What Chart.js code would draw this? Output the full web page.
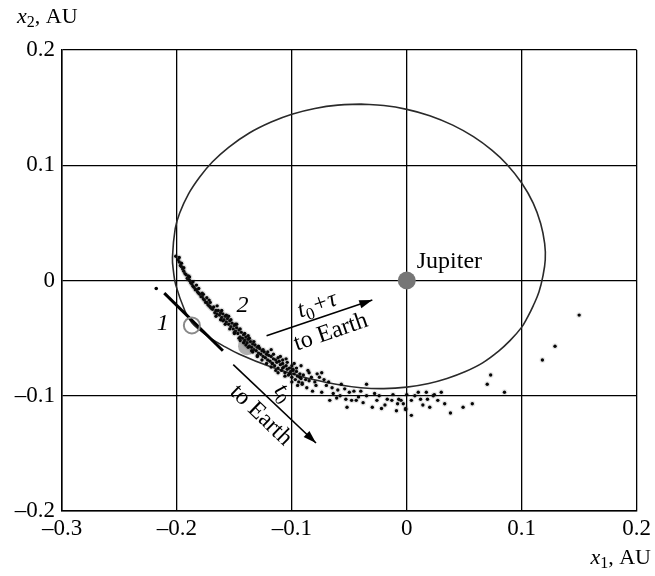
<!DOCTYPE html>
<html>
<head>
<meta charset="utf-8">
<script src="https://cdn.jsdelivr.net/npm/chart.js@4/dist/chart.umd.min.js"></script>
<style>
html,body{margin:0;padding:0;background:#fff;}
#wrap{width:655px;height:576px;}
</style>
</head>
<body>
<div id="wrap"><canvas id="c" width="655" height="576"></canvas></div>
<script>
// ---- data ----
const xTicks = [-0.3, -0.2, -0.1, 0, 0.1, 0.2];
const yTicks = [-0.2, -0.1, 0, 0.1, 0.2];

// orbit, clockwise starting at the top
const orbitX = [-0.040, -0.020, 0.000, 0.020, 0.040, 0.058, 0.074, 0.087, 0.100, 0.110, 0.1165, 0.1200, 0.1205,
                0.1185, 0.1150, 0.1100, 0.1050, 0.0997, 0.0900, 0.0797, 0.0660, 0.0511, 0.0350, 0.0191, 0.0000, -0.0200, -0.0400, -0.0615, -0.0910, -0.1196, -0.1456, -0.1600, -0.1716, -0.1800, -0.1872, -0.1930, -0.2010, -0.2030, -0.2039,
                -0.2015, -0.1976, -0.190, -0.180, -0.169, -0.155, -0.137, -0.118, -0.100, -0.080, -0.060, -0.040];
const orbitY = [0.1530, 0.1518, 0.1485, 0.1430, 0.1348, 0.1248, 0.1131, 0.1009, 0.0846, 0.0672, 0.0495, 0.0320, 0.0180,
                0.0040, -0.0100, -0.0220, -0.0320, -0.0409, -0.0520, -0.0615, -0.0715, -0.0790, -0.0850, -0.0893, -0.0925, -0.0938, -0.0930, -0.0900, -0.0835, -0.0745, -0.0640, -0.0565, -0.0495, -0.0430, -0.0365, -0.0265, -0.0040, 0.0080, 0.0200,
                0.0450, 0.0586, 0.0750, 0.0900, 0.1030, 0.1156, 0.1280, 0.1375, 0.1443, 0.1493, 0.1522, 0.1530];

// particle cloud (x1, x2)
const cloud = [
[-0.201,0.021],[-0.199,0.018],[-0.198,0.016],[-0.197,0.013],[-0.196,0.012],[-0.195,0.010],[-0.194,0.008],[-0.193,0.006],[-0.192,0.005],[-0.191,0.002],
[-0.190,0.001],[-0.189,0.000],[-0.188,-0.002],[-0.187,-0.003],[-0.186,-0.005],[-0.185,-0.006],[-0.184,-0.008],[-0.183,-0.008],[-0.182,-0.010],[-0.181,-0.011],
[-0.180,-0.012],[-0.179,-0.014],[-0.178,-0.014],[-0.177,-0.016],[-0.176,-0.017],[-0.175,-0.019],[-0.174,-0.019],[-0.173,-0.021],[-0.172,-0.022],[-0.171,-0.023],
[-0.170,-0.024],[-0.196,0.015],[-0.190,0.004],[-0.186,-0.001],[-0.181,-0.007],[-0.178,-0.011],[-0.174,-0.015],[-0.171,-0.019],
[-0.198,0.020],[-0.194,0.011],[-0.189,0.003],[-0.183,-0.004],[-0.177,-0.012],[-0.172,-0.017],
[-0.169,-0.025],[-0.168,-0.023],[-0.167,-0.028],[-0.166,-0.026],[-0.165,-0.029],[-0.164,-0.026],[-0.163,-0.030],[-0.162,-0.028],[-0.161,-0.032],[-0.160,-0.029],
[-0.159,-0.034],[-0.158,-0.031],[-0.157,-0.036],[-0.156,-0.033],[-0.155,-0.038],[-0.154,-0.035],[-0.153,-0.040],[-0.152,-0.037],[-0.151,-0.042],[-0.150,-0.039],
[-0.149,-0.044],[-0.148,-0.041],[-0.147,-0.046],[-0.146,-0.043],[-0.145,-0.049],[-0.144,-0.045],[-0.143,-0.050],[-0.142,-0.047],[-0.141,-0.052],[-0.140,-0.049],
[-0.139,-0.054],[-0.138,-0.051],[-0.137,-0.057],[-0.136,-0.053],[-0.135,-0.058],[-0.134,-0.055],[-0.133,-0.060],[-0.132,-0.056],[-0.131,-0.061],[-0.130,-0.058],
[-0.129,-0.063],[-0.128,-0.059],[-0.127,-0.064],[-0.126,-0.061],[-0.125,-0.066],
[-0.160,-0.035],[-0.150,-0.045],[-0.145,-0.052],[-0.140,-0.056],[-0.135,-0.061],[-0.130,-0.065],[-0.138,-0.048],[-0.148,-0.038],[-0.155,-0.031],
[-0.165,-0.022],[-0.161,-0.026],[-0.157,-0.030],[-0.153,-0.034],[-0.149,-0.038],[-0.145,-0.042],[-0.141,-0.046],[-0.137,-0.050],[-0.133,-0.053],[-0.129,-0.057],
[-0.125,-0.060],[-0.121,-0.062],
[-0.166,-0.031],[-0.162,-0.034],[-0.158,-0.038],[-0.154,-0.042],[-0.150,-0.046],[-0.146,-0.050],[-0.142,-0.054],[-0.138,-0.058],[-0.134,-0.062],[-0.130,-0.066],
[-0.126,-0.069],[-0.122,-0.072],[-0.118,-0.075],[-0.114,-0.078],
[-0.124,-0.062],[-0.123,-0.067],[-0.122,-0.064],[-0.121,-0.069],[-0.120,-0.065],[-0.119,-0.070],[-0.118,-0.066],[-0.117,-0.072],[-0.116,-0.068],[-0.115,-0.074],
[-0.114,-0.069],[-0.113,-0.071],[-0.112,-0.076],[-0.111,-0.070],[-0.110,-0.073],[-0.109,-0.078],[-0.108,-0.072],[-0.107,-0.075],[-0.106,-0.080],[-0.105,-0.074],
[-0.104,-0.077],[-0.103,-0.082],[-0.102,-0.076],[-0.101,-0.079],[-0.100,-0.084],[-0.099,-0.077],[-0.098,-0.081],[-0.097,-0.086],[-0.096,-0.079],[-0.095,-0.083],
[-0.094,-0.088],[-0.093,-0.081],[-0.092,-0.085],[-0.091,-0.090],[-0.090,-0.082],
[-0.118,-0.060],[-0.110,-0.066],[-0.105,-0.068],[-0.098,-0.072],[-0.092,-0.074],
[-0.116,-0.064],[-0.112,-0.067],[-0.108,-0.069],[-0.104,-0.071],[-0.100,-0.074],[-0.096,-0.076],[-0.112,-0.080],[-0.106,-0.083],[-0.100,-0.088],[-0.095,-0.091],
[-0.088,-0.086],[-0.086,-0.078],[-0.083,-0.084],[-0.080,-0.088],[-0.078,-0.081],[-0.072,-0.086],[-0.068,-0.088],[-0.064,-0.098],[-0.060,-0.095],[-0.058,-0.100],
[-0.046,-0.096],[-0.040,-0.096],[-0.038,-0.106],[-0.028,-0.098],[-0.026,-0.104],[-0.019,-0.108],[-0.012,-0.099],[-0.008,-0.107],[0.000,-0.099],[0.014,-0.108],
[0.027,-0.104],[0.030,-0.097],
[-0.117,-0.072],[-0.108,-0.076],[-0.102,-0.081],[-0.099,-0.078],[-0.093,-0.084],[-0.091,-0.089],[-0.087,-0.093],[-0.085,-0.087],[-0.082,-0.096],[-0.079,-0.091],
[-0.076,-0.084],[-0.074,-0.097],[-0.067,-0.104],[-0.061,-0.102],[-0.085,-0.080],[-0.074,-0.080],
[-0.070,-0.091],[-0.065,-0.093],[-0.057,-0.090],[-0.054,-0.094],[-0.050,-0.097],[-0.053,-0.103],[-0.048,-0.104],[-0.052,-0.110],[-0.044,-0.104],[-0.042,-0.101],
[-0.035,-0.090],[-0.035,-0.100],[-0.030,-0.110],[-0.024,-0.100],[-0.022,-0.111],[-0.017,-0.103],[-0.013,-0.104],[-0.009,-0.113],[-0.005,-0.104],[-0.001,-0.111],
[0.004,-0.117],[0.004,-0.104],[0.012,-0.103],[0.017,-0.097],
[-0.007,-0.103],[-0.003,-0.107],[0.007,-0.100],[0.010,-0.097],[0.018,-0.103],[0.020,-0.110],[0.023,-0.100],[0.024,-0.099],[-0.001,-0.112],
[0.033,-0.107],[0.038,-0.115],[0.049,-0.110],[0.057,-0.107],[0.070,-0.090],[0.073,-0.082],[0.085,-0.097],[0.118,-0.069],[0.129,-0.057],[0.150,-0.030]
];

// trajectory segment "1" (start dot + line)
const track1X = [-0.211, -0.160];
const track1Y = [-0.011, -0.061];
const track1Dot = [[-0.218, -0.007]];

// markers
const marker1 = [[-0.187, -0.039]];   // open circle at "1"
const marker2 = [[-0.139, -0.057]];   // grey disc at "2"
const jupiter = [[0, 0]];

// direction arrows to Earth: [start, end]
const arrowT0 = [[-0.151, -0.073], [-0.079, -0.141]];
const arrowT0tau = [[-0.122, -0.048], [-0.030, -0.017]];

// text labels anchored in data coordinates
const labels = [
  {segs:[{t:'Jupiter'}], x:0.0087, y:0.0160, rot:0, align:'left'},
  {segs:[{t:'1', i:true}], x:-0.2123, y:-0.0374, rot:0, align:'center'},
  {segs:[{t:'2', i:true}], x:-0.143, y:-0.0217, rot:0, align:'center'},
  {segs:[{t:'t', i:true},{t:'0', sub:true},{t:'+τ', i:true}], x:-0.078, y:-0.0215, rot:-19, align:'center'},
  {segs:[{t:'to Earth'}], x:-0.0660, y:-0.0450, rot:-19, align:'center'},
  {segs:[{t:'t', i:true},{t:'0', sub:true}], x:-0.1075, y:-0.0975, rot:52, align:'center'},
  {segs:[{t:'to Earth'}], x:-0.1270, y:-0.1170, rot:44, align:'center'}
];

// ---- drawing ----
const FONT = "'Liberation Serif', 'Times New Roman', serif";
const pts = (xs, ys) => xs.map((x, i) => ({x, y: ys[i]}));
const pp = arr => arr.map(p => ({x: p[0], y: p[1]}));

function fmt(v){
  const r = Math.round(v * 10) / 10;
  if (Math.abs(r) < 1e-9) return '0';
  const s = Math.abs(r).toFixed(1);
  return r < 0 ? '\u2013' + s : s;
}

function drawRich(ctx, segs, x, y, rotDeg, align, size){
  ctx.save();
  ctx.translate(x, y);
  ctx.rotate(rotDeg * Math.PI / 180);
  ctx.textBaseline = 'middle';
  ctx.fillStyle = '#000';
  const parts = segs.map(s => {
    const f = (s.i ? 'italic ' : '') + (s.sub ? Math.round(size*0.72) : size) + 'px ' + FONT;
    ctx.font = f;
    return {s, f, w: ctx.measureText(s.t).width};
  });
  const total = parts.reduce((a, p) => a + p.w, 0);
  let cx = align === 'left' ? 0 : (align === 'right' ? -total : -total / 2);
  parts.forEach(p => {
    ctx.font = p.f;
    ctx.textAlign = 'left';
    ctx.fillText(p.s.t, cx, p.s.sub ? size * 0.28 : 0);
    cx += p.w;
  });
  ctx.restore();
}

function arrowHead(ctx, x0, y0, x1, y1){
  const a = Math.atan2(y1 - y0, x1 - x0);
  const L = 13, W = 4.2;
  ctx.save();
  ctx.fillStyle = '#000';
  ctx.beginPath();
  ctx.moveTo(x1, y1);
  ctx.lineTo(x1 - L*Math.cos(a) + W*Math.sin(a), y1 - L*Math.sin(a) - W*Math.cos(a));
  ctx.lineTo(x1 - L*Math.cos(a) - W*Math.sin(a), y1 - L*Math.sin(a) + W*Math.cos(a));
  ctx.closePath();
  ctx.fill();
  ctx.restore();
}

const annot = {
  id: 'annot',
  afterDatasetsDraw(chart){
    const ctx = chart.ctx, xs = chart.scales.x, ys = chart.scales.y;
    [arrowT0, arrowT0tau].forEach(a => {
      arrowHead(ctx, xs.getPixelForValue(a[0][0]), ys.getPixelForValue(a[0][1]),
                     xs.getPixelForValue(a[1][0]), ys.getPixelForValue(a[1][1]));
    });
    labels.forEach(l => {
      drawRich(ctx, l.segs, xs.getPixelForValue(l.x), ys.getPixelForValue(l.y), l.rot, l.align, 24);
    });
    // axis titles
    drawRich(ctx, [{t:'x', i:true},{t:'2', sub:true},{t:', AU'}], 17, 17, 0, 'left', 22);
    drawRich(ctx, [{t:'x', i:true},{t:'1', sub:true},{t:', AU'}], 651, 558, 0, 'right', 22);
  }
};

new Chart(document.getElementById('c'), {
  type: 'scatter',
  data: {
    datasets: [
      {label:'jupiter', data: pp(jupiter), pointRadius: 9, pointBackgroundColor:'#767676', pointBorderWidth:0, order:1},
      {label:'marker1', data: pp(marker1), pointRadius: 8, pointBackgroundColor:'rgba(0,0,0,0)', pointBorderColor:'#8a8a8a', pointBorderWidth:2, order:3},
      {label:'arrow0', data: pp(arrowT0), showLine:true, borderColor:'#000', borderWidth:1.6, pointRadius:0, order:4},
      {label:'arrow1', data: pp(arrowT0tau), showLine:true, borderColor:'#000', borderWidth:1.6, pointRadius:0, order:4},
      {label:'track1', data: pts(track1X, track1Y), showLine:true, borderColor:'#000', borderWidth:3, pointRadius:0, order:5},
      {label:'track1dot', data: pp(track1Dot), pointRadius:1.8, pointBackgroundColor:'#000', pointBorderWidth:0, order:5},
      {label:'cloud', data: pp(cloud), pointRadius:1.7, pointBackgroundColor:'#000', pointBorderColor:'rgba(60,60,60,0.12)', pointBorderWidth:2.5, order:6},
      {label:'marker2', data: pp(marker2), pointRadius: 9, pointBackgroundColor:'rgba(110,110,110,0.55)', pointBorderWidth:0, order:6.5},
      {label:'orbit', data: pts(orbitX, orbitY), showLine:true, tension:0.4, borderColor:'#2a2a2a', borderWidth:1.6, pointRadius:0, order:7}
    ]
  },
  options: {
    responsive: false,
    animation: false,
    events: [],
    layout: {padding: {top: 50, right: 16, left: 0, bottom: 0}},
    plugins: {legend: {display:false}, tooltip: {enabled:false}},
    scales: {
      x: {
        type: 'linear', min: -0.3, max: 0.2,
        afterBuildTicks: s => { s.ticks = xTicks.map(v => ({value: v})); },
        afterFit: s => { s.height = 65; },
        ticks: {callback: v => fmt(v), color:'#000', font:{family: FONT, size: 23}, padding: 4, maxRotation: 0},
        grid: {color:'#000', lineWidth:1.3, drawTicks:false},
        border: {color:'#000', width:1.5}
      },
      y: {
        type: 'linear', min: -0.2, max: 0.2,
        afterBuildTicks: s => { s.ticks = yTicks.map(v => ({value: v})); },
        afterFit: s => { s.width = 62; },
        ticks: {callback: v => fmt(v), color:'#000', font:{family: FONT, size: 23}, padding: 7},
        grid: {color:'#000', lineWidth:1.3, drawTicks:false},
        border: {color:'#000', width:1.5}
      }
    }
  },
  plugins: [annot]
});
</script>
</body>
</html>
